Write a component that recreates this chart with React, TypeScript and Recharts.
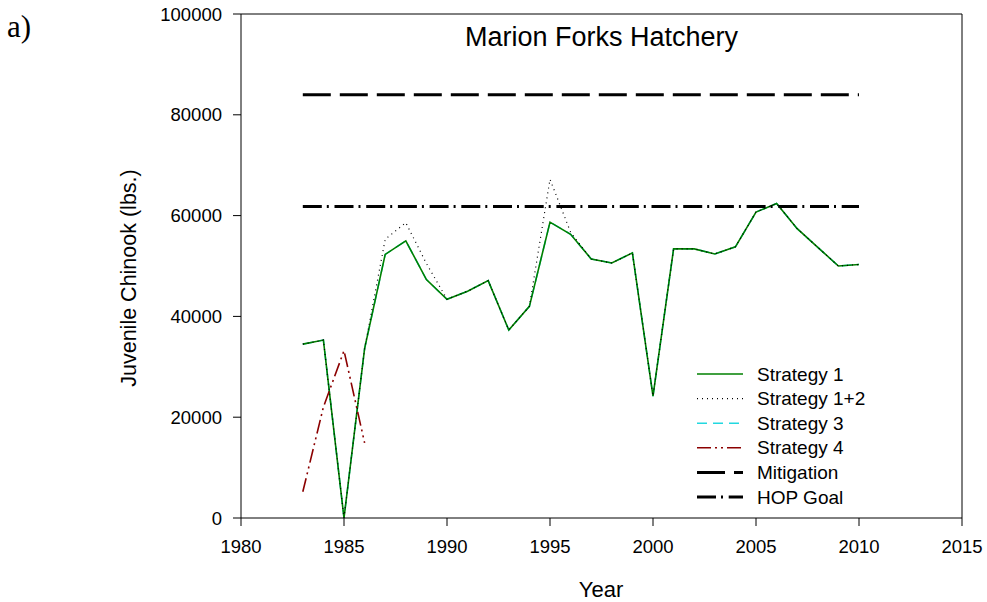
import React from 'react';
import { LineChart, Line, XAxis, YAxis, ReferenceLine, Legend, Label } from 'recharts';

const years = [1983, 1984, 1985, 1986, 1987, 1988, 1989, 1990, 1991, 1992, 1993, 1994, 1995, 1996, 1997, 1998, 1999, 2000, 2001, 2002, 2003, 2004, 2005, 2006, 2007, 2008, 2009, 2010];
const strategy1 = [34500, 35300, 0, 33600, 52300, 55000, 47300, 43400, 45000, 47100, 37300, 42000, 58700, 56300, 51400, 50600, 52600, 24200, 53400, 53400, 52400, 53800, 60700, 62400, 57400, 53700, 50000, 50300];
const strategy12 = [34500, 35300, 0, 33600, 55300, 58600, 50500, 43400, 45000, 47100, 37300, 42000, 67200, 56700, 51400, 50600, 52600, 24200, 53400, 53400, 52400, 53800, 60700, 62400, 57400, 53700, 50000, 50300];
const strategy3 = [34500, 35300, 0, 33600, 52300, 55000, 47300, 43400, 45000, 47100, 37300, 42000, 58700, 56300, 51400, 50600, 52600, 24200, 53400, 53400, 52400, 53800, 60700, 62400, 57400, 53700, 50000, 50300];
const strategy4Years = [1983, 1984, 1985, 1986];
const strategy4 = [5200, 22000, 33200, 14900];
const targetYears = [1983, 2010];
const mitigation = [84000, 84000];
const hopGoal = [61800, 61800];
const xTicks = [1980, 1985, 1990, 1995, 2000, 2005, 2010, 2015];
const yTicks = [0, 20000, 40000, 60000, 80000, 100000];

const toPoints = (xs: number[], ys: number[]) => xs.map((x, i) => ({ year: x, value: ys[i] }));

const FONT = 'Liberation Sans, Arial, sans-serif';

const legendItems = [
  { name: 'Strategy 1', color: '#008000', dash: undefined as string | undefined, width: 1.5 },
  { name: 'Strategy 1+2', color: '#000000', dash: '1 4', width: 1.2 },
  { name: 'Strategy 3', color: '#22d8e0', dash: '10 6', width: 1.5 },
  { name: 'Strategy 4', color: '#8b0000', dash: '14 4 2 4 2 4', width: 1.5 },
  { name: 'Mitigation', color: '#000000', dash: '28 9', width: 3 },
  { name: 'HOP Goal', color: '#000000', dash: '19 5 2 5.7', width: 3 },
];

const LegendBox = () => (
  <svg width={230} height={155} style={{ display: 'block' }}>
    {legendItems.map((it, i) => {
      const cy = 14 + i * 24.6;
      return (
        <g key={it.name}>
          <line x1={7} x2={53} y1={cy} y2={cy} stroke={it.color} strokeWidth={it.width} strokeDasharray={it.dash} />
          <text x={67} y={cy} dy="0.35em" fontFamily={FONT} fontSize={19} fill="#000">{it.name}</text>
        </g>
      );
    })}
  </svg>
);

export default function App() {
  return (
    <div style={{ position: 'absolute', left: 0, top: 0, width: 987, height: 602, background: '#fff' }}>
      <div style={{ position: 'absolute', left: 7, top: 9, fontFamily: 'Liberation Serif, Times New Roman, serif', fontSize: 31, lineHeight: '36px' }}>a)</div>
      <div style={{ position: 'absolute', left: 241, width: 721, top: 22, textAlign: 'center', fontFamily: FONT, fontSize: 27, lineHeight: '30px' }}>Marion Forks Hatchery</div>
      <LineChart width={987} height={602} margin={{ top: 14, right: 25, bottom: 54, left: 161 }}>
        <XAxis
          dataKey="year"
          type="number"
          domain={[1980, 2015]}
          ticks={xTicks}
          allowDuplicatedCategory={false}
          height={30}
          tickSize={8}
          tickMargin={14}
          stroke="#000"
          tick={{ fill: '#000', fontSize: 18.5, fontFamily: FONT }}
        >
          <Label
            content={() => (
              <text x={601} y={597} textAnchor="middle" fontFamily={FONT} fontSize={22} fill="#000">Year</text>
            )}
          />
        </XAxis>
        <YAxis
          type="number"
          domain={[0, 100000]}
          ticks={yTicks}
          width={80}
          tickSize={8}
          tickMargin={11}
          stroke="#000"
          tick={{ fill: '#000', fontSize: 18.5, fontFamily: FONT }}
        >
          <Label
            content={() => (
              <text x={136} y={278} transform="rotate(-90 136 278)" textAnchor="middle" fontFamily={FONT} fontSize={21.5} fill="#000">Juvenile Chinook (lbs.)</text>
            )}
          />
        </YAxis>
        <ReferenceLine y={100000} stroke="#000" strokeWidth={1} />
        <ReferenceLine x={2015} stroke="#000" strokeWidth={1} />
        <Legend layout="vertical" align="center" verticalAlign="middle" content={() => <LegendBox />} wrapperStyle={{ position: 'absolute', left: 690, top: 360, width: 230, height: 155 }} />
        <Line data={toPoints(years, strategy3)} dataKey="value" name="Strategy 3" stroke="#22d8e0" strokeWidth={1.5} strokeDasharray="10 6" dot={false} activeDot={false} isAnimationActive={false} />
        <Line data={toPoints(years, strategy1)} dataKey="value" name="Strategy 1" stroke="#008000" strokeWidth={1.6} dot={false} activeDot={false} isAnimationActive={false} />
        <Line data={toPoints(years, strategy12)} dataKey="value" name="Strategy 1+2" stroke="#000" strokeWidth={1.2} strokeDasharray="1 4" dot={false} activeDot={false} isAnimationActive={false} />
        <Line data={toPoints(strategy4Years, strategy4)} dataKey="value" name="Strategy 4" stroke="#8b0000" strokeWidth={1.6} strokeDasharray="14 4 2 4 2 4" dot={false} activeDot={false} isAnimationActive={false} />
        <Line data={toPoints(targetYears, mitigation)} dataKey="value" name="Mitigation" stroke="#000" strokeWidth={3} strokeDasharray="28 9" dot={false} activeDot={false} isAnimationActive={false} />
        <Line data={toPoints(targetYears, hopGoal)} dataKey="value" name="HOP Goal" stroke="#000" strokeWidth={3} strokeDasharray="19 5 2 5.7" dot={false} activeDot={false} isAnimationActive={false} />
      </LineChart>
    </div>
  );
}
